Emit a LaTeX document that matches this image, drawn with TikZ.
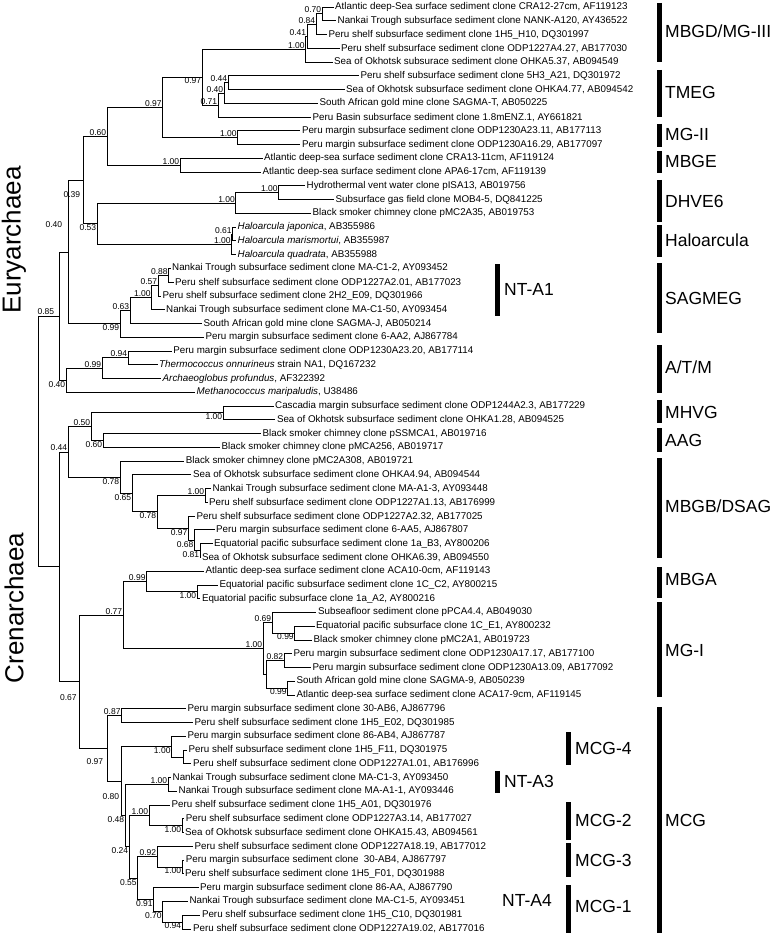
\documentclass[tikz,border=0pt]{standalone}
\usepackage{fontspec}
\setmainfont{Liberation Sans}
\begin{document}
\begin{tikzpicture}[x=1pt,y=-1pt,
  br/.style={line width=0.85pt},
  lf/.style={anchor=west, inner xsep=1.5pt, inner ysep=0pt, font=\fontsize{9.8}{11}\selectfont},
  bsa/.style={anchor=south east, inner sep=0.7pt, font=\fontsize{8.5}{9}\selectfont},
  bsb/.style={anchor=north east, inner sep=0.7pt, font=\fontsize{8.5}{9}\selectfont},
  bse/.style={anchor=east, inner sep=0.7pt, font=\fontsize{8.5}{9}\selectfont},
  grp/.style={anchor=west, inner sep=0pt, font=\fontsize{17.5}{19}\selectfont},
  gbar/.style={line width=4.4pt},
  dom/.style={rotate=90, inner sep=0pt, font=\fontsize{26}{28}\selectfont}]
\useasboundingbox[fill=white] (0,0) rectangle (775,936);
% leaves
\node[lf] (L1) at (333.5,7.00) {Atlantic deep-Sea surface sediment clone CRA12-27cm, AF119123};
\node[lf] (L2) at (336,20.76) {Nankai Trough subsurface sediment clone NANK-A120, AY436522};
\node[lf] (L3) at (327,34.52) {Peru shelf subsurface sediment clone 1H5\_H10, DQ301997};
\node[lf] (L4) at (339.5,48.28) {Peru shelf subsurface sediment clone ODP1227A4.27, AB177030};
\node[lf] (L5) at (332.5,62.04) {Sea of Okhotsk subsurace sediment clone OHKA5.37, AB094549};
\node[lf] (L6) at (359,75.80) {Peru shelf subsurface sediment clone 5H3\_A21, DQ301972};
\node[lf] (L7) at (344.5,89.56) {Sea of Okhotsk subsurface sediment clone OHKA4.77, AB094542};
\node[lf] (L8) at (318,103.32) {South African gold mine clone SAGMA-T, AB050225};
\node[lf] (L9) at (311,117.08) {Peru Basin subsurface sediment clone 1.8mENZ.1, AY661821};
\node[lf] (L10) at (300.3,130.84) {Peru margin subsurface sediment clone ODP1230A23.11, AB177113};
\node[lf] (L11) at (300.3,144.60) {Peru margin subsurface sediment clone ODP1230A16.29, AB177097};
\node[lf] (L12) at (262.5,158.36) {Atlantic deep-sea surface sediment clone CRA13-11cm, AF119124};
\node[lf] (L13) at (261,172.12) {Atlantic deep-sea surface sediment clone APA6-17cm, AF119139};
\node[lf] (L14) at (305,185.88) {Hydrothermal vent water clone pISA13, AB019756};
\node[lf] (L15) at (334,199.64) {Subsurface gas field clone MOB4-5, DQ841225};
\node[lf] (L16) at (311,213.40) {Black smoker chimney clone pMC2A35, AB019753};
\node[lf] (L17) at (236,227.16) {\textit{Haloarcula japonica}, AB355986};
\node[lf] (L18) at (236,240.92) {\textit{Haloarcula marismortui}, AB355987};
\node[lf] (L19) at (236,254.68) {\textit{Haloarcula quadrata}, AB355988};
\node[lf] (L20) at (170.5,268.44) {Nankai Trough subsurface sediment clone MA-C1-2, AY093452};
\node[lf] (L21) at (173.5,282.20) {Peru shelf subsurface sediment clone ODP1227A2.01, AB177023};
\node[lf] (L22) at (161,295.96) {Peru shelf subsurface sediment clone 2H2\_E09, DQ301966};
\node[lf] (L23) at (164.5,309.72) {Nankai Trough subsurface sediment clone MA-C1-50, AY093454};
\node[lf] (L24) at (202,323.48) {South African gold mine clone SAGMA-J, AB050214};
\node[lf] (L25) at (204,337.24) {Peru margin subsurface sediment clone 6-AA2, AJ867784};
\node[lf] (L26) at (171.7,351.00) {Peru margin subsurface sediment clone ODP1230A23.20, AB177114};
\node[lf] (L27) at (157.5,364.76) {\textit{Thermococcus onnurineus} strain NA1, DQ167232};
\node[lf] (L28) at (161,378.52) {\textit{Archaeoglobus profundus}, AF322392};
\node[lf] (L29) at (195,392.28) {\textit{Methanococcus maripaludis}, U38486};
\node[lf] (L30) at (273.5,406.04) {Cascadia margin subsurface sediment clone ODP1244A2.3, AB177229};
\node[lf] (L31) at (275.3,419.80) {Sea of Okhotsk subsurface sediment clone OHKA1.28, AB094525};
\node[lf] (L32) at (261,433.56) {Black smoker chimney clone pSSMCA1, AB019716};
\node[lf] (L33) at (220,447.32) {Black smoker chimney clone pMCA256, AB019717};
\node[lf] (L34) at (184.2,461.08) {Black smoker chimney clone pMC2A308, AB019721};
\node[lf] (L35) at (191.4,474.84) {Sea of Okhotsk subsurface sediment clone OHKA4.94, AB094544};
\node[lf] (L36) at (211,488.60) {Nankai Trough subsurface sediment clone MA-A1-3, AY093448};
\node[lf] (L37) at (207.5,502.36) {Peru shelf subsurface sediment clone ODP1227A1.13, AB176999};
\node[lf] (L38) at (195,516.12) {Peru shelf subsurface sediment clone ODP1227A2.32, AB177025};
\node[lf] (L39) at (214.5,529.88) {Peru margin subsurface sediment clone 6-AA5, AJ867807};
\node[lf] (L40) at (212.5,543.64) {Equatorial pacific subsurface sediment clone 1a\_B3, AY800206};
\node[lf] (L41) at (200.3,557.40) {Sea of Okhotsk subsurface sediment clone OHKA6.39, AB094550};
\node[lf] (L42) at (204,571.16) {Atlantic deep-sea surface sediment clone ACA10-0cm, AF119143};
\node[lf] (L43) at (218,584.92) {Equatorial pacific subsurface sediment clone 1C\_C2, AY800215};
\node[lf] (L44) at (200.3,598.68) {Equatorial pacific subsurface clone 1a\_A2, AY800216};
\node[lf] (L45) at (316.4,612.44) {Subseafloor sediment clone pPCA4.4, AB049030};
\node[lf] (L46) at (314.5,626.20) {Equatorial pacific subsurface clone 1C\_E1, AY800232};
\node[lf] (L47) at (312,639.96) {Black smoker chimney clone pMC2A1, AB019723};
\node[lf] (L48) at (292,653.72) {Peru margin subsurface sediment clone ODP1230A17.17, AB177100};
\node[lf] (L49) at (311,667.48) {Peru margin subsurface sediment clone ODP1230A13.09, AB177092};
\node[lf] (L50) at (295,681.24) {South African gold mine clone SAGMA-9, AB050239};
\node[lf] (L51) at (295,695.00) {Atlantic deep-sea surface sediment clone ACA17-9cm, AF119145};
\node[lf] (L52) at (186,708.76) {Peru margin subsurface sediment clone 30-AB6, AJ867796};
\node[lf] (L53) at (193,722.52) {Peru shelf subsurface sediment clone 1H5\_E02, DQ301985};
\node[lf] (L54) at (186,736.28) {Peru margin subsurface sediment clone 86-AB4, AJ867787};
\node[lf] (L55) at (187,750.04) {Peru shelf subsurface sediment clone 1H5\_F11, DQ301975};
\node[lf] (L56) at (191.4,763.80) {Peru shelf subsurface sediment clone ODP1227A1.01, AB176996};
\node[lf] (L57) at (171,777.56) {Nankai Trough subsurface sediment clone MA-C1-3, AY093450};
\node[lf] (L58) at (177,791.32) {Nankai Trough subsurface sediment clone MA-A1-1, AY093446};
\node[lf] (L59) at (170,805.08) {Peru shelf subsurface sediment clone 1H5\_A01, DQ301976};
\node[lf] (L60) at (184.2,818.84) {Peru shelf subsurface sediment clone ODP1227A3.14, AB177027};
\node[lf] (L61) at (183.5,832.60) {Sea of Okhotsk subsurface sediment clone OHKA15.43, AB094561};
\node[lf] (L62) at (193,846.36) {Peru shelf subsurface sediment clone ODP1227A18.19, AB177012};
\node[lf] (L63) at (184.2,860.12) {Peru margin subsurface sediment clone\ \ 30-AB4, AJ867797};
\node[lf] (L64) at (183.5,873.88) {Peru shelf subsurface sediment clone 1H5\_F01, DQ301988};
\node[lf] (L65) at (198.5,887.64) {Peru margin subsurface sediment clone 86-AA, AJ867790};
\node[lf] (L66) at (187.8,901.40) {Nankai Trough subsurface sediment clone MA-C1-5, AY093451};
\node[lf] (L67) at (200.3,915.16) {Peru shelf subsurface sediment clone 1H5\_C10, DQ301981};
\node[lf] (L68) at (191.4,928.92) {Peru shelf subsurface sediment clone ODP1227A19.02, AB177016};
% internal nodes
\coordinate (a1) at (322,13.88);
\coordinate (a2) at (316,24.2);
\coordinate (a3) at (307,36.24);
\coordinate (a4) at (305.5,49.14);
\coordinate (t1) at (228,82.68);
\coordinate (t2) at (224,93.0);
\coordinate (t3) at (218,105.04);
\coordinate (m1) at (202,77.09);
\coordinate (g2) at (237.5,137.72);
\coordinate (m2) at (162.5,107.4);
\coordinate (e1) at (180,165.24);
\coordinate (p) at (107,136.32);
\coordinate (d1) at (278.6,192.76);
\coordinate (d2) at (235.7,203.08);
\coordinate (h1) at (232.5,234.04);
\coordinate (h2) at (231.5,244.36);
\coordinate (r) at (97,223.72);
\coordinate (q) at (83,180.02);
\coordinate (s1) at (168.5,275.32);
\coordinate (s2) at (158,285.64);
\coordinate (s3) at (151.5,297.68);
\coordinate (s4) at (130,310.58);
\coordinate (s5) at (120,323.91);
\coordinate (s) at (68,251.97);
\coordinate (n1) at (128,357.88);
\coordinate (n2) at (102,368.2);
\coordinate (n3) at (66,380.24);
\coordinate (E) at (59,316.1);
\coordinate (c1) at (223,412.92);
\coordinate (c3) at (103,440.44);
\coordinate (c2) at (91,426.68);
\coordinate (bnd) at (205,495.48);
\coordinate (b8) at (200,550.52);
\coordinate (b7) at (194.3,540.2);
\coordinate (b6) at (188.3,528.16);
\coordinate (b5) at (157,511.82);
\coordinate (b4) at (132,493.33);
\coordinate (b3) at (120,477.2);
\coordinate (c4) at (68,451.94);
\coordinate (f1) at (197,591.8);
\coordinate (f2) at (146.4,581.48);
\coordinate (i1) at (294.6,633.08);
\coordinate (i2) at (272,622.76);
\coordinate (i3) at (284,660.6);
\coordinate (i4) at (287.5,688.12);
\coordinate (i5) at (266,674.36);
\coordinate (i6) at (263,648.56);
\coordinate (f3) at (123,615.02);
\coordinate (k1) at (121.4,715.64);
\coordinate (k2a) at (183,756.92);
\coordinate (k2b) at (171.4,746.6);
\coordinate (k3) at (168,784.44);
\coordinate (k4a) at (182,825.72);
\coordinate (k4b) at (149,815.4);
\coordinate (k8a) at (182,867.0);
\coordinate (k8b) at (157,856.68);
\coordinate (k9a) at (182,922.04);
\coordinate (k9b) at (162.5,911.72);
\coordinate (k9c) at (153.6,899.68);
\coordinate (k12) at (137.5,878.18);
\coordinate (k11) at (129,846.79);
\coordinate (k5) at (125,815.62);
\coordinate (k6) at (121,781.11);
\coordinate (k7) at (107,748.37);
\coordinate (D) at (79,681.7);
\coordinate (C) at (59,566.82);
\coordinate (R) at (38.6,441.46);
% branches
\foreach \pa/\ch in {a1/L1.west,a1/L2.west,a2/a1,a2/L3.west,a3/a2,a3/L4.west,a4/a3,a4/L5.west,
 t1/L6.west,t1/L7.west,t2/t1,t2/L8.west,t3/t2,t3/L9.west,m1/a4,m1/t3,g2/L10.west,g2/L11.west,
 m2/m1,m2/g2,e1/L12.west,e1/L13.west,p/m2,p/e1,d1/L14.west,d1/L15.west,d2/d1,d2/L16.west,
 h1/L17.west,h1/L18.west,h2/h1,h2/L19.west,r/d2,r/h2,q/p,q/r,
 s1/L20.west,s1/L21.west,s2/s1,s2/L22.west,s3/s2,s3/L23.west,s4/s3,s4/L24.west,s5/s4,s5/L25.west,
 s/q,s/s5,n1/L26.west,n1/L27.west,n2/n1,n2/L28.west,n3/n2,n3/L29.west,E/s,E/n3,
 c1/L30.west,c1/L31.west,c3/L32.west,c3/L33.west,c2/c1,c2/c3,
 bnd/L36.west,bnd/L37.west,b8/L40.west,b8/L41.west,b7/L39.west,b7/b8,b6/L38.west,b6/b7,
 b5/bnd,b5/b6,b4/L35.west,b4/b5,b3/L34.west,b3/b4,c4/c2,c4/b3,
 f1/L43.west,f1/L44.west,f2/L42.west,f2/f1,i1/L46.west,i1/L47.west,i2/L45.west,i2/i1,
 i3/L48.west,i3/L49.west,i4/L50.west,i4/L51.west,i5/i3,i5/i4,i6/i2,i6/i5,f3/f2,f3/i6,
 k1/L52.west,k1/L53.west,k2a/L55.west,k2a/L56.west,k2b/L54.west,k2b/k2a,k3/L57.west,k3/L58.west,
 k4a/L60.west,k4a/L61.west,k4b/L59.west,k4b/k4a,k8a/L63.west,k8a/L64.west,k8b/L62.west,k8b/k8a,
 k9a/L67.west,k9a/L68.west,k9b/L66.west,k9b/k9a,k9c/L65.west,k9c/k9b,k12/k8b,k12/k9c,
 k11/k4b,k11/k12,k5/k3,k5/k11,k6/k2b,k6/k5,k7/k1,k7/k6,D/f3,D/k7,C/c4,C/D,R/E,R/C}
 \draw[br] (\pa) |- (\ch);
% bootstrap values
\node[bsa] (la1) at (a1) {0.70};
\node[bsa] (la2) at (a2) {0.84};
\node[bsa] (la3) at (a3) {0.41};
\node[bsa] (la4) at (a4) {1.00};
\node[bsa] (lt1) at (t1) {0.44};
\node[bsa] (lt2) at (t2) {0.40};
\node[bsa] (lt3) at (t3) {0.71};
\node[bsb] (lm1) at (m1) {0.97};
\node[bsa] (lm2) at (m2) {0.97};
\node[bsa] (lg2) at (g2) {1.00};
\node[bsa] (le1) at (e1) {1.00};
\node[bsa] (lp) at (p) {0.60};
\node[bsa] (ld1) at (d1) {1.00};
\node[bsa] (ld2) at (d2) {1.00};
\node[bsa] (lh1) at (h1) {0.61};
\node[bsa] (lh2) at (h2) {1.00};
\node[bsb] (lr) at (r) {0.53};
\node[bse] (lq) at (81,195) {0.39};
\node[bse] (ls) at (63,225) {0.40};
\node[bse] (lE) at (55,312) {0.85};
\node[bsa] (ls1) at (s1) {0.88};
\node[bsa] (ls2) at (s2) {0.57};
\node[bsa] (ls3) at (s3) {1.00};
\node[bsa] (ls4) at (s4) {0.63};
\node[bsb] (ls5) at (s5) {0.99};
\node[bsa] (ln1) at (n1) {0.94};
\node[bsa] (ln2) at (n2) {0.99};
\node[bsb] (ln3) at (n3) {0.40};
\node[bsb] (lc1) at (c1) {1.00};
\node[bsb] (lc3) at (c3) {0.60};
\node[bsa] (lc2) at (c2) {0.50};
\node[bsa] (lc4) at (c4) {0.44};
\node[bsa] (lbnd) at (bnd) {1.00};
\node[bsb] (lb8) at (b8) {0.81};
\node[bsb] (lb7) at (b7) {0.68};
\node[bsb] (lb6) at (b6) {0.97};
\node[bsb] (lb5) at (b5) {0.78};
\node[bsb] (lb4) at (b4) {0.65};
\node[bsb] (lb3) at (b3) {0.78};
\node[bsb] (lf1) at (f1) {1.00};
\node[bsa] (lf2) at (f2) {0.99};
\node[bsb] (li1) at (i1) {0.99};
\node[bsa] (li2) at (i2) {0.69};
\node[bsa] (li3) at (i3) {0.82};
\node[bsb] (li4) at (i4) {0.99};
\node[bsa] (li6) at (i6) {1.00};
\node[bsa] (lf3) at (f3) {0.77};
\node[bsa] (lk1) at (k1) {0.87};
\node[bsb] (lk2b) at (k2b) {1.00};
\node[bsa] (lk3) at (k3) {1.00};
\node[bsb] (lk4a) at (k4a) {1.00};
\node[bsa] (lk4b) at (k4b) {1.00};
\node[bsb] (lk8a) at (k8a) {1.00};
\node[bsa] (lk8b) at (k8b) {0.92};
\node[bsb] (lk9a) at (k9a) {0.94};
\node[bsb] (lk9b) at (k9b) {0.70};
\node[bsb] (lk9c) at (k9c) {0.91};
\node[bsb] (lk12) at (k12) {0.55};
\node[bsb] (lk11) at (k11) {0.24};
\node[bsb] (lk5) at (k5) {0.48};
\node[bse] (lk6) at (120,797) {0.80};
\node[bse] (lk7) at (104,762) {0.97};
\node[bse] (lD) at (77.5,698) {0.67};
% domain labels
\node[dom] (eury) at (14,240) {Euryarchaea};
\node[dom] (cren) at (14,608) {Crenarchaea};
% group bars and labels
\draw[gbar] (659.5,3) -- (659.5,62);   \node[grp] (g1) at (665,31) {MBGD/MG-III};
\draw[gbar] (659.5,70) -- (659.5,117); \node[grp] (g2t) at (665,92) {TMEG};
\draw[gbar] (659.5,124) -- (659.5,147); \node[grp] (g3) at (665,134) {MG-II};
\draw[gbar] (659.5,151) -- (659.5,173); \node[grp] (g4) at (665,161) {MBGE};
\draw[gbar] (659.5,180) -- (659.5,222); \node[grp] (g5) at (665,201) {DHVE6};
\draw[gbar] (659.5,225) -- (659.5,257); \node[grp] (g6) at (665,240) {Haloarcula};
\draw[gbar] (659.5,263) -- (659.5,333); \node[grp] (g7) at (665,298) {SAGMEG};
\draw[gbar] (659.5,345) -- (659.5,393); \node[grp] (g8) at (665,367) {A/T/M};
\draw[gbar] (659.5,400) -- (659.5,423); \node[grp] (g9) at (665,412) {MHVG};
\draw[gbar] (659.5,428) -- (659.5,452); \node[grp] (g10) at (665,440) {AAG};
\draw[gbar] (659.5,458) -- (659.5,558); \node[grp] (g11) at (665,506) {MBGB/DSAG};
\draw[gbar] (659.5,567) -- (659.5,598); \node[grp] (g12) at (665,579) {MBGA};
\draw[gbar] (659.5,602) -- (659.5,697); \node[grp] (g13) at (665,650) {MG-I};
\draw[gbar] (659.5,707) -- (659.5,933); \node[grp] (g14) at (665,820) {MCG};
\draw[gbar] (568.5,732) -- (568.5,765); \node[grp] (g15) at (575,748) {MCG-4};
\draw[gbar] (568.5,802) -- (568.5,840); \node[grp] (g16) at (575,820) {MCG-2};
\draw[gbar] (568.5,843) -- (568.5,877); \node[grp] (g17) at (575,860) {MCG-3};
\draw[gbar] (568.5,885) -- (568.5,933); \node[grp] (g18) at (575,906) {MCG-1};
\draw[gbar] (497.5,264) -- (497.5,316); \node[grp] (nt1) at (504,289) {NT-A1};
\draw[gbar] (497.5,771) -- (497.5,793); \node[grp] (nt3) at (504,781) {NT-A3};
\node[grp] (nt4) at (502,900) {NT-A4};
\end{tikzpicture}
\end{document}
